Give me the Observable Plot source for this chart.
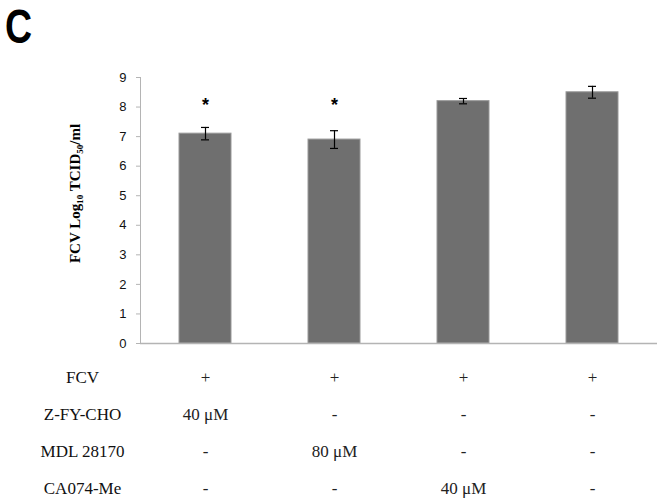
<!DOCTYPE html>
<html><head><meta charset="utf-8">
<script src="https://cdn.jsdelivr.net/npm/d3@7"></script>
<script src="https://cdn.jsdelivr.net/npm/@observablehq/plot@0.6"></script>
<style>
body{margin:0;background:#fff}
#wrap{position:relative;width:664px;height:502px;overflow:hidden;background:#fff}
#panel{position:absolute;left:5px;top:0;font:bold 48px "Liberation Sans",Arial,sans-serif;line-height:54px;color:#000;transform:scaleX(0.78);transform-origin:0 0}
#chart svg,#table svg{display:block}
</style></head><body>
<div id="wrap"><div id="chart"></div><div id="table"></div><div id="panel">C</div></div>
<script>
// ---- data ----
const groups = ["G1", "G2", "G3", "G4"];
const means = [7.1, 6.9, 8.2, 8.5];
const errors = [0.21, 0.3, 0.09, 0.2];
const signif = ["*", "*", "", ""];
const yTicks = [0, 1, 2, 3, 4, 5, 6, 7, 8, 9];
const yLabel = "FCV Log₁₀ TCID₅₀/ml";
const rowLabels = ["FCV", "Z-FY-CHO", "MDL 28170", "CA074-Me"];
const rowFCV = ["+", "+", "+", "+"];
const rowZFY = ["40 μM", "-", "-", "-"];
const rowMDL = ["-", "80 μM", "-", "-"];
const rowCA = ["-", "-", "40 μM", "-"];

const bars = groups.map((g, i) => ({g, v: means[i], e: errors[i], s: signif[i]}));
const rows = [rowFCV, rowZFY, rowMDL, rowCA];
const cells = [];
rows.forEach((r, ri) => r.forEach((t, ci) => cells.push({row: rowLabels[ri], g: groups[ci], t})));

const xScale = {domain: groups, paddingInner: 0.6, paddingOuter: 0.3, axis: null};
const axisGray = "#b4b4b4";

const chart = Plot.plot({
  width: 664, height: 360,
  marginLeft: 140, marginRight: 7, marginTop: 77, marginBottom: 17,
  style: {fontFamily: '"Liberation Sans", Arial, sans-serif', fontSize: "13px", color: "#111", background: "#fff"},
  x: xScale,
  y: {domain: [0, 9], ticks: yTicks},
  marks: [
    Plot.frame({anchor: "left", stroke: axisGray}),
    Plot.barY(bars, {x: "g", y: "v", fill: "#6f6f6f", stroke: "#999", strokeWidth: 1}),
    Plot.ruleY([0], {stroke: axisGray, strokeWidth: 1.5}),
    Plot.ruleX(bars, {x: "g", y1: d => d.v - d.e, y2: d => d.v + d.e, stroke: "#000", strokeWidth: 1.2}),
    Plot.tickY(bars, {x: "g", y: d => d.v + d.e, stroke: "#000", strokeWidth: 1.2, insetLeft: 22, insetRight: 22}),
    Plot.tickY(bars, {x: "g", y: d => d.v - d.e, stroke: "#000", strokeWidth: 1.2, insetLeft: 22, insetRight: 22}),
    Plot.text(bars.filter(d => d.s), {x: "g", y: () => 8.2, text: "s", fontSize: 18, fontWeight: "bold", dy: 4, fill: "#000"}),
    Plot.axisY({ticks: yTicks, tickSize: 4, tickPadding: 10, stroke: axisGray, label: null, fill: "#111", fontSize: 13}),
    Plot.text([yLabel], {text: d => d, frameAnchor: "left", rotate: -90, dx: -65, dy: -17, textAnchor: "middle",
      fontFamily: '"Liberation Serif", "Times New Roman", serif', fontWeight: "bold", fontSize: 15, fill: "#000"})
  ]
});
document.getElementById("chart").appendChild(chart);

const table = Plot.plot({
  width: 664, height: 142,
  marginLeft: 140, marginRight: 7, marginTop: 17, marginBottom: 14,
  style: {fontFamily: '"Liberation Serif", "Times New Roman", serif', fontSize: "17px", color: "#111", background: "#fff"},
  x: xScale,
  y: {type: "point", domain: rowLabels, padding: 0},
  marks: [
    Plot.axisY({tickSize: 0, tickPadding: 58, textAnchor: "middle", label: null, fontSize: 17, fill: "#111"}),
    Plot.text(cells, {x: "g", y: "row", text: "t", fontSize: 17, fill: "#222"})
  ]
});
document.getElementById("table").appendChild(table);
</script>
</body></html>
